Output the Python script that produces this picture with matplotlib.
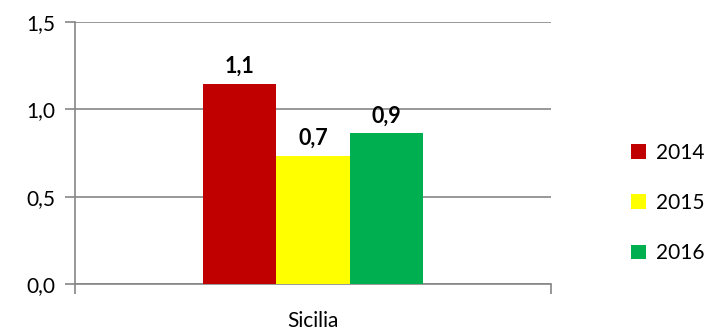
import matplotlib.pyplot as plt
from matplotlib.ticker import FuncFormatter

plt.rcParams['font.family'] = ['Lato', 'DejaVu Sans']

anni = ['2014', '2015', '2016']
valori = [1.145, 0.733, 0.864]
etichette = ['1,1', '0,7', '0,9']
colori = ['#C00000', '#FFFF00', '#00B050']
categoria = 'Sicilia'

fig = plt.figure(figsize=(7.09, 3.3), dpi=100)
ax = fig.add_axes([0.1058, 0.139, 0.671, 0.794])

w = 0.154
for i, (a, v, lab, c) in enumerate(zip(anni, valori, etichette, colori)):
    x = (i - 1) * w
    ax.bar(x, v, width=w, color=c, label=a, zorder=3)
    ax.annotate(lab, (x, v), xytext=(0, 5), textcoords='offset points',
                ha='center', va='bottom', fontsize=15.5, fontweight='bold')

ax.set_xlim(-0.5, 0.5)
ax.set_ylim(0, 1.5)
ax.set_yticks([0, 0.5, 1.0, 1.5])
ax.yaxis.set_major_formatter(FuncFormatter(lambda v, p: f'{v:.1f}'.replace('.', ',')))
ax.grid(axis='y', color='#868686', linewidth=1.2, zorder=0)
ax.set_xticks([0])
ax.set_xticklabels([categoria])
ax.set_xticks([-0.5, 0.5], minor=True)
ax.tick_params(axis='x', which='major', length=0, pad=19, labelsize=15)
ax.tick_params(axis='x', which='minor', length=7, color='#868686', width=1.2)
ax.tick_params(axis='y', length=7, color='#868686', width=1.2, labelsize=15, pad=7)

for s in ['top', 'right']:
    ax.spines[s].set_visible(False)
for s in ['left', 'bottom']:
    ax.spines[s].set_color('#868686')
    ax.spines[s].set_linewidth(1.2)

ax.legend(loc='center left', bbox_to_anchor=(1.13, 0.31), frameon=False,
          fontsize=15, handlelength=0.7, handleheight=0.7, labelspacing=1.45,
          handletextpad=0.5)

fig.savefig('out.png', dpi=100)
